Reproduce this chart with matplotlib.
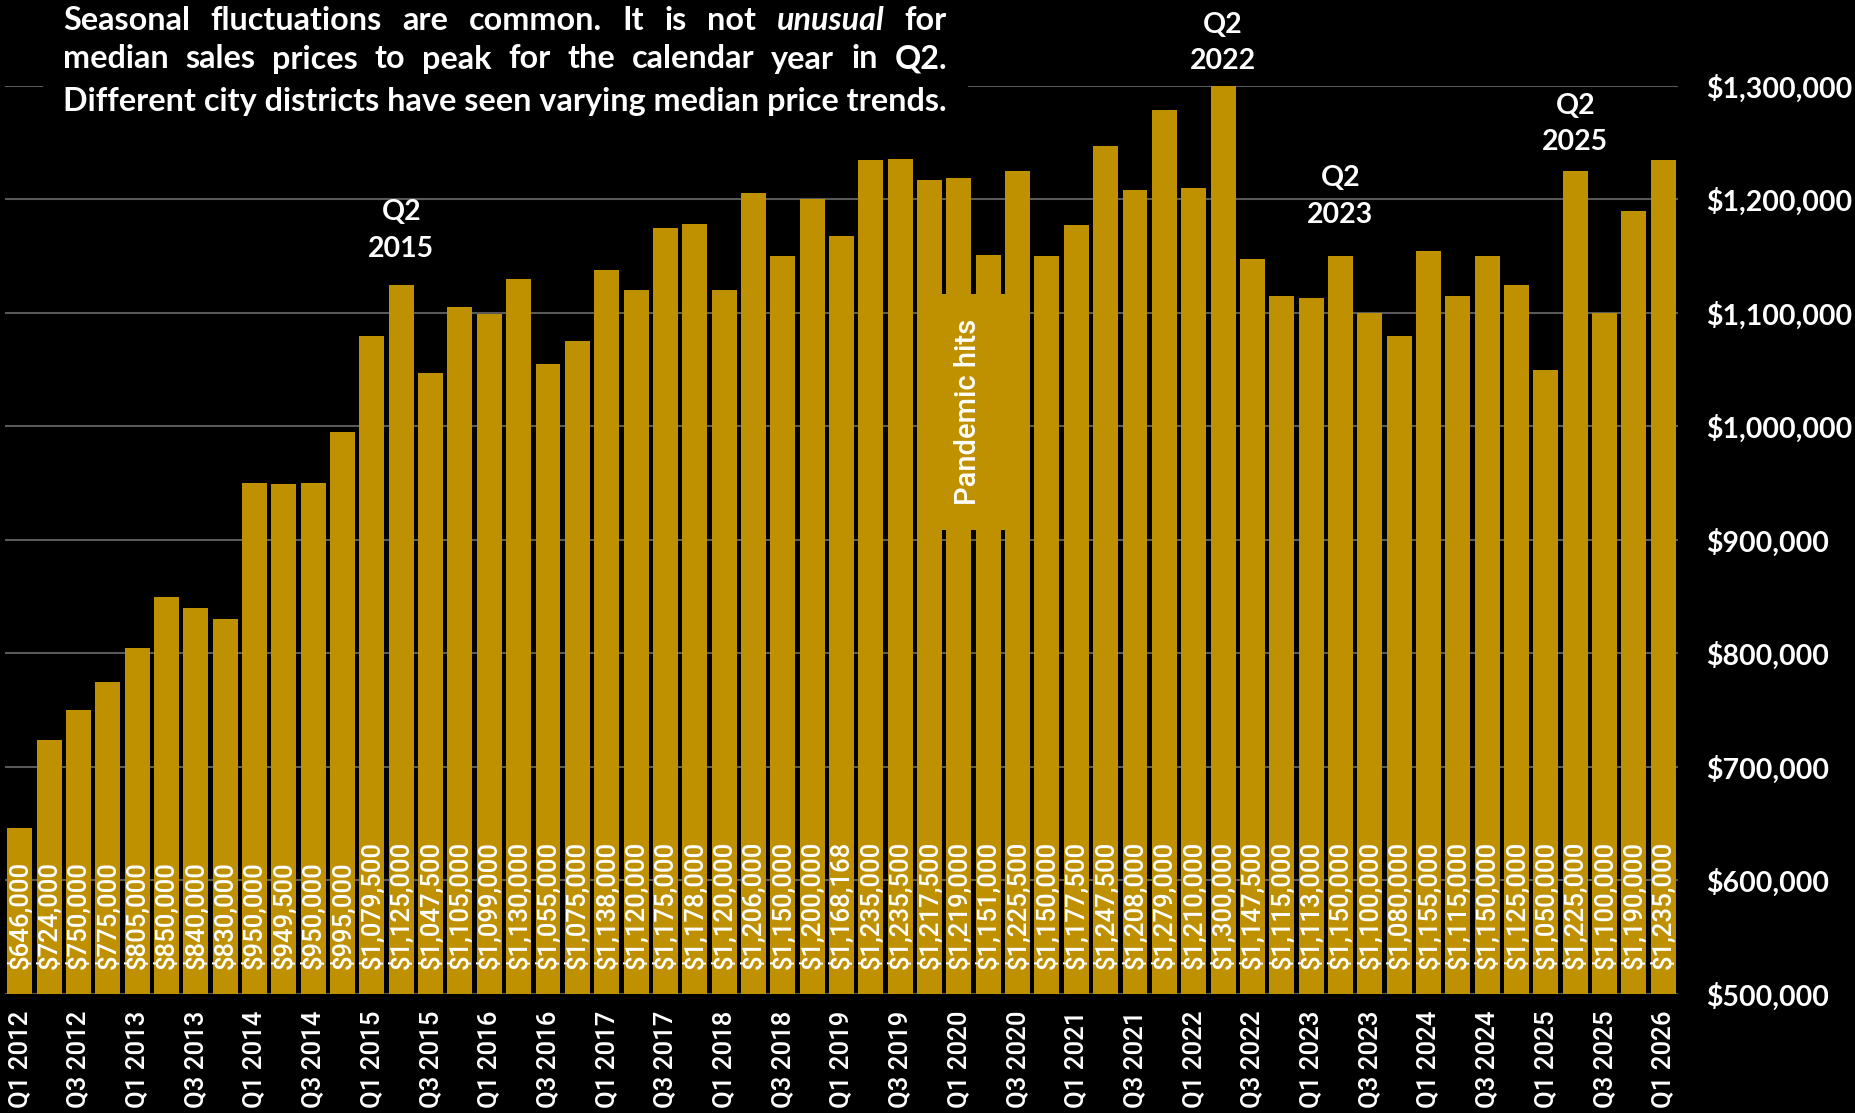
import matplotlib
matplotlib.use("Agg")
import matplotlib.pyplot as plt
from matplotlib.patches import Rectangle
import numpy as np

# quarterly median sales prices, Q1 2012 .. Q1 2026
years = range(2012, 2027)
quarters = [f"Q{q} {y}" for y in years for q in (1, 2, 3, 4)][:57]

prices = [
    646000, 724000, 750000, 775000, 805000, 850000, 840000, 830000,
    950000, 949500, 950000, 995000, 1079500, 1125000, 1047500, 1105000,
    1099000, 1130000, 1055000, 1075000, 1138000, 1120000, 1175000, 1178000,
    1120000, 1206000, 1150000, 1200000, 1168168, 1235000, 1235500, 1217500,
    1219000, 1151000, 1225500, 1150000, 1177500, 1247500, 1208000, 1279000,
    1210000, 1300000, 1147500, 1115000, 1113000, 1150000, 1100000, 1080000,
    1155000, 1115000, 1150000, 1125000, 1050000, 1225000, 1100000, 1190000,
    1235000,
]

peaks = ["Q2 2015", "Q2 2022", "Q2 2023", "Q2 2025"]

note_lines = [
    [("Seasonal", "normal"), ("fluctuations", "normal"), ("are", "normal"),
     ("common.", "normal"), ("It", "normal"), ("is", "normal"), ("not", "normal"),
     ("unusual", "italic"), ("for", "normal")],
    [(w, "normal") for w in "median sales prices to peak for the calendar year in Q2.".split()],
    [("Different city districts have seen varying median price trends.", "normal")],
]

GOLD = "#BF9000"
W, H = 1856, 1113

fig = plt.figure(figsize=(W / 100, H / 100), dpi=100, facecolor="black")
ax = fig.add_axes([5 / W, 1 - 994 / H, 1673 / W, 908 / H])
ax.set_facecolor("black")

x = np.arange(len(prices))
ax.bar(x, prices, width=0.85, color=GOLD, zorder=2)
ax.set_xlim(-0.5, len(prices) - 0.5)
ax.set_ylim(500000, 1300000)

ax.grid(axis="y", color="#595959", lw=1.5, zorder=0)
ax.set_axisbelow(True)
for s in ax.spines.values():
    s.set_visible(False)

yt = np.arange(500000, 1300001, 100000)
ax.yaxis.tick_right()
ax.set_yticks(yt, labels=[f"${v:,.0f}" for v in yt],
              fontfamily="Lato", fontweight="bold", fontsize=20.5, color="white")
ax.tick_params(axis="y", length=0, pad=20)

ax.set_xticks(x[::2], labels=quarters[::2], rotation=90,
              fontfamily="Roboto", fontweight="medium", fontsize=18.5, color="white")
ax.tick_params(axis="x", length=0, pad=12)

# value labels inside base of each bar
for i, v in enumerate(prices):
    ax.annotate(f"${v:,}", xy=(i, 500000), xytext=(0, 18), textcoords="offset points",
                rotation=90, ha="center", va="bottom", color="white",
                fontsize=18.5, fontweight="medium", fontfamily="Roboto", zorder=4)

# Q2 peak callouts
offsets = {"Q2 2015": 39, "Q2 2022": 31, "Q2 2023": 43, "Q2 2025": 34}
for lab in peaks:
    i = quarters.index(lab)
    ax.annotate(lab.replace(" ", "\n"), xy=(i, prices[i]), xytext=(0, offsets[lab]),
                textcoords="offset points", ha="center", va="center",
                color="white", fontsize=20.5, fontweight="bold", fontfamily="Lato",
                linespacing=1.5, annotation_clip=False)

ax.text(32.3, 1012800, "Pandemic hits", rotation=90, ha="center", va="center",
        color="white", fontsize=21, fontweight="medium", fontfamily="Roboto", zorder=5,
        bbox=dict(boxstyle="square,pad=0.85", fc=GOLD, ec="none"))

# black box behind the note (hides the top gridline)
fig.add_artist(Rectangle((43 / W, 1 - 130 / H), (968 - 43) / W, 130 / H,
                         transform=fig.transFigure, fc="black", ec="none", zorder=1))

# justified note text
renderer = fig.canvas.get_renderer()
x0, x1 = 63, 947
line_y = [20, 59, 101]


def make_words(words, y, size):
    out = []
    for w, style in words:
        t = fig.text(0, 1 - y / H, w, color="white", fontsize=size, fontweight="bold",
                     fontstyle=style, fontfamily="Lato", va="center", ha="left", zorder=3)
        out.append(t)
    return out


probe = fig.text(0, 0, note_lines[2][0][0], fontsize=20, fontweight="bold", fontfamily="Lato")
pw = probe.get_window_extent(renderer=renderer).width
probe.remove()
size = 20 * (x1 - x0) / pw

for words, y in zip(note_lines, line_y):
    ts = make_words(words, y, size)
    widths = [t.get_window_extent(renderer=renderer).width for t in ts]
    if len(ts) > 1:
        gap = (x1 - x0 - sum(widths)) / (len(ts) - 1)
    else:
        gap = 0
    pos = x0
    for t, w in zip(ts, widths):
        t.set_x(pos / W)
        pos += w + gap

fig.savefig("out.png", dpi=100, facecolor="black")
